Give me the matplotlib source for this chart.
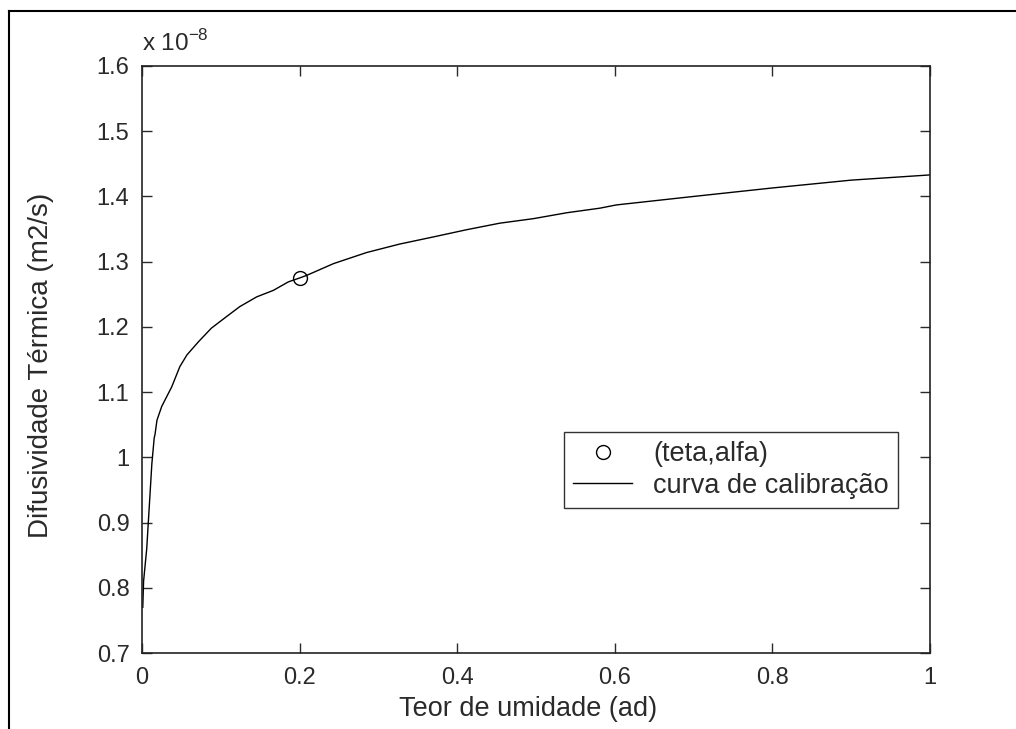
import matplotlib
matplotlib.use("Agg")
import matplotlib.pyplot as plt
from matplotlib.lines import Line2D

plt.rcParams['font.family'] = ['Liberation Sans', 'DejaVu Sans']

# calibration curve (teta, alfa * 1e8)
teta = [0.001, 0.0015, 0.002, 0.006, 0.008, 0.010, 0.0125, 0.0155, 0.0165,
        0.019, 0.025, 0.0377, 0.048, 0.057, 0.0715, 0.088, 0.1075, 0.124,
        0.1455, 0.1667, 0.1857, 0.2, 0.209, 0.243, 0.285, 0.327, 0.370,
        0.412, 0.454, 0.497, 0.539, 0.581, 0.602, 0.70, 0.80, 0.90, 1.0]
alfa = [0.77, 0.79, 0.81, 0.86, 0.90, 0.94, 0.99, 1.03, 1.035,
        1.057, 1.078, 1.108, 1.139, 1.157, 1.177, 1.198, 1.216, 1.231,
        1.246, 1.256, 1.269, 1.275, 1.279, 1.297, 1.314, 1.327, 1.338,
        1.349, 1.359, 1.366, 1.375, 1.382, 1.387, 1.400, 1.413, 1.425, 1.433]

# measured point
pt_teta = [0.2]
pt_alfa = [1.275]

xticks = [0, 0.2, 0.4, 0.6, 0.8, 1]
xticklabels = ['0', '0.2', '0.4', '0.6', '0.8', '1']
yticks = [0.7, 0.8, 0.9, 1.0, 1.1, 1.2, 1.3, 1.4, 1.5, 1.6]
yticklabels = ['0.7', '0.8', '0.9', '1', '1.1', '1.2', '1.3', '1.4', '1.5', '1.6']

TXT = '#2a2a2a'

fig = plt.figure(figsize=(10.16, 7.29), dpi=100)
ax = fig.add_axes([142/1016, 1 - 653/729, (930-142)/1016, (653-66)/729])

ax.plot(pt_teta, pt_alfa, 'o', mfc='none', mec='black', ms=10, mew=1.0,
        label='(teta,alfa)')
ax.plot(teta, alfa, '-', color='black', lw=1.0, label='curva de calibração')

ax.set_xlim(0, 1)
ax.set_ylim(0.7, 1.6)
ax.set_xticks(xticks)
ax.set_xticklabels(xticklabels)
ax.set_yticks(yticks)
ax.set_yticklabels(yticklabels)
ax.tick_params(direction='in', length=7, width=1, top=True, right=True,
               labelsize=17, colors=TXT)
ax.tick_params(axis='y', pad=9)
ax.tick_params(axis='x', pad=10)
for s in ax.spines.values():
    s.set_linewidth(1.2)
    s.set_color('#222222')

ax.set_xlabel('Teor de umidade (ad)', fontsize=19.5, color=TXT, va='top')
ax.xaxis.set_label_coords(0.49, -0.073)
ax.set_ylabel('Difusividade Térmica (m2/s)', fontsize=20, color=TXT)
ax.yaxis.set_label_coords(-0.112, 0.49)

ax.text(0.0, 1.018, r'x 10$^{\mathregular{-8}}$', transform=ax.transAxes,
        fontsize=17.5, color=TXT, ha='left', va='bottom')

leg = ax.legend(loc='lower left', bbox_to_anchor=(0.5355, 0.247), fontsize=19.5,
                frameon=True, fancybox=False, shadow=False, edgecolor='black',
                borderpad=0.35, handlelength=2.15, handletextpad=0.8,
                labelspacing=0.2, borderaxespad=0)
leg.get_frame().set_linewidth(1.0)
for t in leg.get_texts():
    t.set_color(TXT)

# outer screenshot frame
fig.add_artist(Line2D([9/1016, 9/1016], [0, 1 - 11/729], transform=fig.transFigure,
                      color='black', lw=1.5))
fig.add_artist(Line2D([9/1016, 1], [1 - 11/729, 1 - 11/729], transform=fig.transFigure,
                      color='black', lw=1.5))

fig.savefig('out.png', dpi=100)
